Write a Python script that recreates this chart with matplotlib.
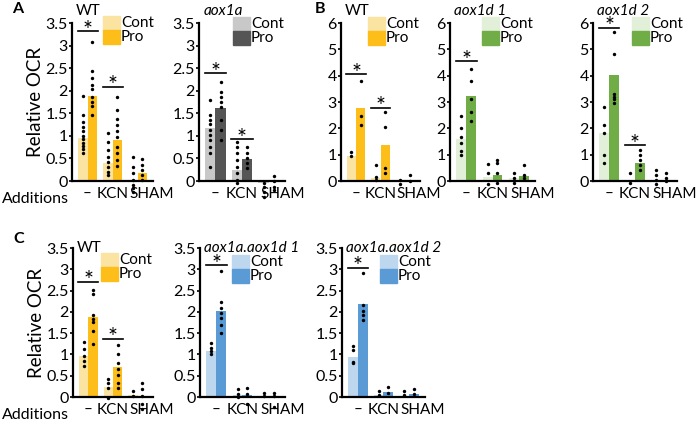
import matplotlib
matplotlib.use("Agg")
import matplotlib.pyplot as plt
from matplotlib.patches import Rectangle

plt.rcParams['font.family'] = ['Lato', 'DejaVu Sans']

groups = ['\u2013', 'KCN', 'SHAM']
label_pos = [0, 1.0, 2.55]

# colours (Cont, Pro)
yellow = ('#FBE3A2', '#FDBE1A')
grey = ('#C8C8C8', '#555555')
green = ('#E2EFD9', '#70AD47')
blue = ('#BDD7EE', '#5B9BD5')

# ---- panel A, WT
a_wt_cont = [0.95, 0.40, 0.03]
a_wt_pro = [1.88, 0.90, 0.18]
a_wt_cont_dots = [[1.88, 1.47, 1.3, 1.2, 1.1, 1.0, 0.92, 0.85, 0.78, 0.7, 0.62],
                  [1.06, 0.87, 0.69, 0.54, 0.41, 0.32, 0.21, 0.13],
                  [0.54, 0.32, 0.17, 0.02, -0.09, -0.16, -0.24]]
a_wt_pro_dots = [[3.07, 2.43, 2.28, 2.13, 2.04, 1.87, 1.76, 1.67, 1.47],
                 [1.85, 1.58, 1.37, 1.24, 1.1, 0.97, 0.76, 0.61, 0.47, 0.33],
                 [0.48, 0.36, 0.24, 0.13, 0.02]]
a_wt_sig = [(0, 3.32), (1, 2.09)]

# ---- panel A, aox1a
a_1a_cont = [1.18, 0.24, -0.05]
a_1a_pro = [1.61, 0.48, -0.02]
a_1a_cont_dots = [[1.79, 1.46, 1.36, 1.26, 1.13, 1.02, 0.91, 0.76, 0.61, 0.32],
                  [0.87, 0.76, 0.61, 0.46, 0.32, 0.17, 0.02, -0.05],
                  [-0.04, -0.13, -0.24, -0.35]]
a_1a_pro_dots = [[2.2, 1.97, 1.86, 1.75, 1.64, 1.35, 1.13, 0.91],
                 [0.76, 0.61, 0.5, 0.39, 0.28],
                 [0.1, -0.01, -0.13, -0.21]]
a_1a_sig = [(0, 2.39), (1, 0.92)]

# ---- panel B, WT
b_wt_cont = [0.95, 0.10, 0.0]
b_wt_pro = [2.78, 1.36, 0.02]
b_wt_cont_dots = [[1.11, 0.95], [0.6, 0.14, 0.04], [0.05, -0.1]]
b_wt_pro_dots = [[3.8, 2.45, 2.12], [2.63, 2.06, 0.48, 0.32], [0.23, 0.0]]
b_wt_sig = [(0, 4.05), (1, 2.79)]

# ---- panel B, aox1d 1
b_d1_cont = [1.59, 0.15, 0.10]
b_d1_pro = [3.22, 0.22, 0.20]
b_d1_cont_dots = [[2.46, 2.03, 1.68, 1.43, 1.15, 0.98], [0.64, 0.32, -0.11], [0.29, 0.12, -0.06]]
b_d1_pro_dots = [[4.27, 3.8, 3.13, 2.63, 2.29], [0.8, 0.67, 0.29, -0.06], [0.6, 0.23, 0.1]]
b_d1_sig = [(0, 4.55)]

# ---- panel B, aox1d 2
b_d2_cont = [1.84, 0.02, 0.03]
b_d2_pro = [4.02, 0.69, 0.05]
b_d2_cont_dots = [[2.82, 2.12, 1.81, 0.98, 0.67], [0.29, -0.06], [0.42, 0.23, 0.04, -0.12]]
b_d2_pro_dots = [[5.66, 4.84, 3.32, 3.19, 3.11, 2.98], [1.17, 0.98, 0.8, 0.61, 0.42], [0.29, 0.1, 0.0]]
b_d2_sig = [(0, 5.82), (1, 1.36)]

# ---- panel C, WT
c_wt_cont = [0.96, 0.24, 0.04]
c_wt_pro = [1.88, 0.71, 0.03]
c_wt_cont_dots = [[1.3, 1.13, 0.97, 0.85, 0.73], [0.43, 0.34, 0.22, -0.02], [0.14, 0.02]]
c_wt_pro_dots = [[2.51, 2.41, 1.92, 1.84, 1.76, 1.56, 1.25],
                 [1.21, 1.01, 0.81, 0.66, 0.51, 0.34, 0.2],
                 [0.34, 0.18, 0.02, -0.17, -0.29]]
c_wt_sig = [(0, 2.71), (1, 1.37)]

# ---- panel C, aox1a.aox1d 1
c_d1_cont = [1.09, 0.04, 0.02]
c_d1_pro = [2.02, 0.05, 0.02]
c_d1_cont_dots = [[1.27, 1.16, 1.08, 1.02], [0.18, 0.06, 0.0], [0.1, 0.02]]
c_d1_pro_dots = [[2.97, 2.23, 2.08, 1.98, 1.86, 1.7, 1.51], [0.2, 0.08, -0.17], [0.1, 0.02, -0.23]]
c_d1_sig = [(0, 3.09)]

# ---- panel C, aox1a.aox1d 2
c_d2_cont = [0.95, 0.04, 0.03]
c_d2_pro = [2.19, 0.12, 0.06]
c_d2_cont_dots = [[1.2, 1.1, 0.83, 0.8], [0.14, 0.04], [0.14, 0.04]]
c_d2_pro_dots = [[2.92, 2.15, 2.03, 1.92, 1.8], [0.24, 0.1], [0.18, 0.06]]
c_d2_sig = [(0, 3.04)]

W, H = 700, 423
fig = plt.figure(figsize=(7, 4.23), dpi=100)


def px_axes(left, top, right, bottom):
    return fig.add_axes([left / W, 1 - bottom / H, (right - left) / W, (bottom - top) / H])


def panel(ax, title, italic, cols, cont, pro, cdots, pdots, sig, ymax, yticks,
          leg, title_y, ylabel=False):
    x = range(len(groups))
    bw = 0.38
    ax.bar([i - bw / 2 for i in x], cont, bw, color=cols[0], clip_on=False, zorder=1)
    ax.bar([i + bw / 2 for i in x], pro, bw, color=cols[1], clip_on=False, zorder=1)
    for i in x:
        ax.scatter([i - bw / 2] * len(cdots[i]), cdots[i], s=6, color='black',
                   zorder=3, clip_on=False, linewidths=0)
        ax.scatter([i + bw / 2] * len(pdots[i]), pdots[i], s=6, color='black',
                   zorder=3, clip_on=False, linewidths=0)
    for g, yv in sig:
        ax.plot([g - bw - 0.02, g + bw + 0.02], [yv, yv], color='black', lw=1.2, clip_on=False)
        ax.annotate('*', (g, yv), xytext=(0, -7), textcoords='offset points',
                    ha='center', va='bottom', fontsize=17, annotation_clip=False)
    ax.set_ylim(0, ymax)
    ax.set_yticks(yticks)
    ax.set_yticklabels([('%g' % t) for t in yticks])
    ax.set_xticks(label_pos)
    ax.set_xticklabels(groups)
    ax.set_xlim(-0.62, 2.62)
    ax.tick_params(axis='x', length=0, pad=4, labelsize=11)
    ax.tick_params(axis='y', length=2.5, width=1.2, pad=0.5, labelsize=11.5)
    for s in ['top', 'right']:
        ax.spines[s].set_visible(False)
    for s in ['left', 'bottom']:
        ax.spines[s].set_linewidth(1.6)
    ax.text(0.05, title_y, title, transform=ax.transAxes, fontsize=11,
            style='italic' if italic else 'normal', ha='left', va='center')
    if ylabel:
        ax.set_ylabel('Relative OCR', fontsize=13.5, labelpad=1)
    # legend boxes
    pos = ax.get_position()
    lx = pos.x0 + leg[0] * pos.width
    ly = pos.y0 + leg[1] * pos.height
    w, h = 17 / W, 14 / H
    for k, (c, lab) in enumerate(zip(cols, ['Cont', 'Pro'])):
        fig.add_artist(Rectangle((lx, ly - (k + 1) * h), w, h, color=c,
                                 transform=fig.transFigure))
        fig.text(lx + w + 1 / W, ly - (k + 0.5) * h, lab, fontsize=11, va='center')


ticks35 = [0, 0.5, 1, 1.5, 2, 2.5, 3, 3.5]
ticks6 = [0, 1, 2, 3, 4, 5, 6]

ax = px_axes(72, 23, 153, 181)
panel(ax, 'WT', False, yellow, a_wt_cont, a_wt_pro, a_wt_cont_dots, a_wt_pro_dots,
      a_wt_sig, 3.5, ticks35, (0.383, 1.044), 1.075, ylabel=True)
ax = px_axes(199, 23, 285, 181)
panel(ax, 'aox1a', True, grey, a_1a_cont, a_1a_pro, a_1a_cont_dots, a_1a_pro_dots,
      a_1a_sig, 3.5, ticks35, (0.395, 1.038), 1.075)
ax = px_axes(341, 23, 420, 181)
panel(ax, 'WT', False, yellow, b_wt_cont, b_wt_pro, b_wt_cont_dots, b_wt_pro_dots,
      b_wt_sig, 6, ticks6, (0.34, 1.038), 1.075)
ax = px_axes(450, 23, 535, 181)
panel(ax, 'aox1d 1', True, green, b_d1_cont, b_d1_pro, b_d1_cont_dots, b_d1_pro_dots,
      b_d1_sig, 6, ticks6, (0.376, 1.038), 1.075)
ax = px_axes(593, 23, 677, 181)
panel(ax, 'aox1d 2', True, green, b_d2_cont, b_d2_pro, b_d2_cont_dots, b_d2_pro_dots,
      b_d2_sig, 6, ticks6, (0.464, 1.038), 1.075)

ax = px_axes(73, 248, 153, 397)
panel(ax, 'WT', False, yellow, c_wt_cont, c_wt_pro, c_wt_cont_dots, c_wt_pro_dots,
      c_wt_sig, 3.5, ticks35, (0.35, 0.966), 1.0, ylabel=True)
ax = px_axes(200, 248, 285, 397)
panel(ax, 'aox1a.aox1d 1', True, blue, c_d1_cont, c_d1_pro, c_d1_cont_dots, c_d1_pro_dots,
      c_d1_sig, 3.5, ticks35, (0.376, 0.953), 1.0)
ax = px_axes(342, 248, 425, 397)
panel(ax, 'aox1a.aox1d 2', True, blue, c_d2_cont, c_d2_pro, c_d2_cont_dots, c_d2_pro_dots,
      c_d2_sig, 3.5, ticks35, (0.458, 0.953), 1.0)

fig.text(2 / W, 1 - 199 / H, 'Additions', fontsize=11.5, va='center')
fig.text(2 / W, 1 - 415 / H, 'Additions', fontsize=11.5, va='center')
fig.text(12 / W, 1 - 9 / H, 'A', fontsize=11.5, fontweight='bold', va='center')
fig.text(315 / W, 1 - 9 / H, 'B', fontsize=11.5, fontweight='bold', va='center')
fig.text(13 / W, 1 - 239 / H, 'C', fontsize=11.5, fontweight='bold', va='center')

fig.savefig('out.png', dpi=100)
